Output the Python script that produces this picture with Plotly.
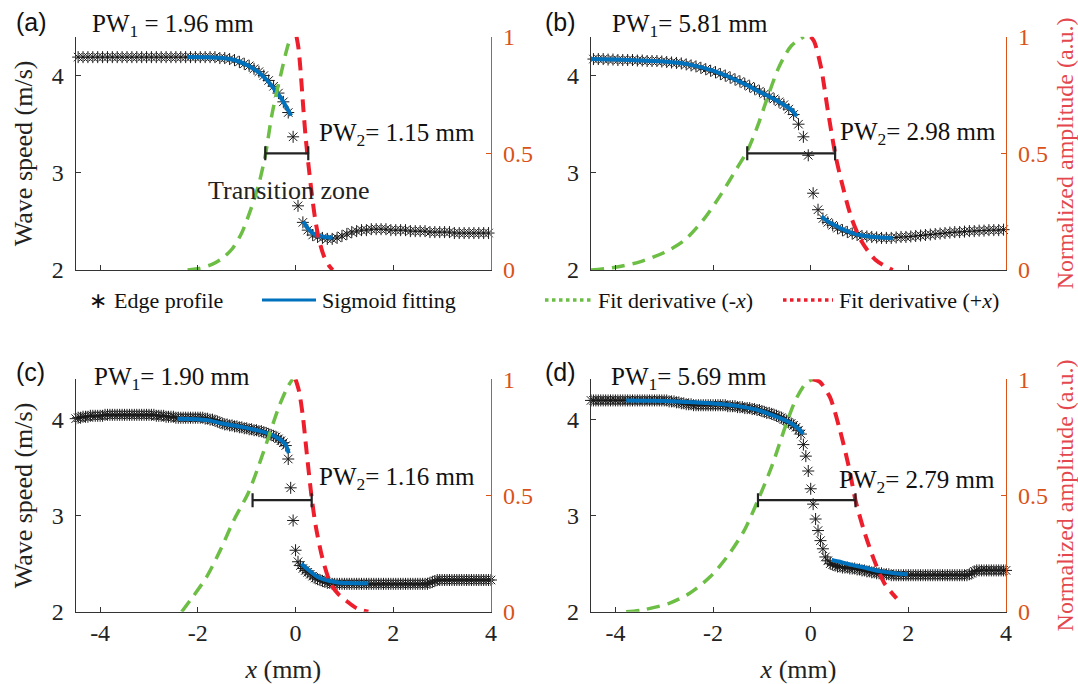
import plotly.graph_objects as go

# ---------------- data ----------------
# sampling grids of the measured edge profiles (mm)
EDGE_X_AB = [round(-4.55 + 0.1 * k, 2) for k in range(87)]
EDGE_X_CD = [round(-4.55 + 0.05 * k, 2) for k in range(173)]

EDGE_Y_A = [4.19, 4.19, 4.19, 4.19, 4.19, 4.19, 4.19, 4.19, 4.19, 4.19,
            4.19, 4.19, 4.19, 4.19, 4.19, 4.19, 4.19, 4.19, 4.19, 4.19,
            4.19, 4.19, 4.19, 4.19, 4.19, 4.19, 4.19, 4.19, 4.19, 4.19,
            4.18, 4.18, 4.17, 4.16, 4.14, 4.12, 4.10, 4.07, 4.04, 4.00,
            3.95, 3.89, 3.82, 3.73, 3.62, 3.37, 2.66, 2.49, 2.41, 2.36,
            2.34, 2.33, 2.32, 2.32, 2.33, 2.35, 2.37, 2.39, 2.40, 2.41,
            2.41, 2.42, 2.42, 2.42, 2.42, 2.41, 2.41, 2.41, 2.41, 2.40,
            2.40, 2.40, 2.40, 2.39, 2.39, 2.39, 2.39, 2.39, 2.38, 2.38,
            2.38, 2.38, 2.38, 2.38, 2.38, 2.38, 2.38]

EDGE_Y_B = [4.17, 4.17, 4.17, 4.17, 4.165, 4.165, 4.16, 4.16, 4.16, 4.16,
            4.155, 4.155, 4.15, 4.15, 4.15, 4.145, 4.14, 4.135, 4.13, 4.125,
            4.115, 4.105, 4.095, 4.08, 4.065, 4.05, 4.035, 4.015, 4.0, 3.98,
            3.96, 3.94, 3.915, 3.89, 3.865, 3.84, 3.81, 3.785, 3.76, 3.73,
            3.70, 3.655, 3.60, 3.50, 3.37, 3.18, 2.79, 2.62, 2.53, 2.49,
            2.46, 2.43, 2.41, 2.39, 2.375, 2.36, 2.35, 2.345, 2.34, 2.335,
            2.33, 2.33, 2.33, 2.335, 2.34, 2.34, 2.345, 2.35, 2.355, 2.36,
            2.365, 2.37, 2.375, 2.38, 2.385, 2.39, 2.39, 2.395, 2.40, 2.40,
            2.405, 2.405, 2.41, 2.41, 2.41, 2.415, 2.415]

EDGE_Y_C = [4.00, 4.01, 4.02, 4.02, 4.03, 4.03, 4.03, 4.04, 4.04, 4.04, 4.04, 4.04,
            4.04, 4.05, 4.05, 4.05, 4.05, 4.05, 4.05, 4.05,
            4.05, 4.05, 4.05, 4.05, 4.05, 4.05, 4.05, 4.05, 4.05, 4.05,
            4.05, 4.05, 4.05, 4.05, 4.04, 4.04, 4.04, 4.04, 4.03, 4.03,
            4.03, 4.03, 4.02, 4.02, 4.02, 4.02, 4.02, 4.02, 4.02, 4.02,
            4.02, 4.02, 4.02, 4.02, 4.01, 4.01, 4.00, 4.00, 3.99, 3.98,
            3.97, 3.96, 3.95, 3.95, 3.94, 3.94, 3.93, 3.93, 3.92, 3.92,
            3.91, 3.91, 3.90, 3.90, 3.89, 3.89, 3.88, 3.88, 3.87, 3.86,
            3.85, 3.84, 3.83, 3.82, 3.80, 3.78, 3.76, 3.73, 3.59, 3.29,
            2.95, 2.64, 2.52, 2.48, 2.45, 2.43, 2.41, 2.39, 2.37, 2.35,
            2.34, 2.33, 2.32, 2.31, 2.30, 2.30, 2.29, 2.29, 2.29, 2.29,
            2.29, 2.29, 2.29, 2.29, 2.29, 2.29, 2.29, 2.29, 2.29, 2.29,
            2.29, 2.29, 2.29, 2.29, 2.29, 2.29, 2.29, 2.29, 2.29, 2.29,
            2.29, 2.29, 2.29, 2.29, 2.29, 2.29, 2.29, 2.29, 2.29, 2.29,
            2.29, 2.29, 2.29, 2.29, 2.29, 2.29, 2.30, 2.31, 2.32, 2.33,
            2.33, 2.33, 2.33, 2.33, 2.33, 2.33, 2.33, 2.33, 2.33, 2.33,
            2.33, 2.33, 2.33, 2.33, 2.33, 2.33, 2.33, 2.33, 2.33, 2.33,
            2.33, 2.33, 2.33]

EDGE_Y_D = [4.20, 4.20, 4.20, 4.20, 4.20, 4.20, 4.20, 4.20, 4.20, 4.20,
            4.20, 4.20, 4.20, 4.20, 4.20, 4.20, 4.20, 4.20, 4.20, 4.20,
            4.20, 4.20, 4.20, 4.20, 4.20, 4.20, 4.20, 4.20, 4.20, 4.20,
            4.20, 4.20, 4.20, 4.19, 4.19, 4.19, 4.18, 4.18, 4.17, 4.17,
            4.16, 4.16, 4.16, 4.15, 4.15, 4.15, 4.15, 4.15, 4.15, 4.15,
            4.15, 4.15, 4.15, 4.15, 4.15, 4.15, 4.15, 4.14, 4.14, 4.14,
            4.14, 4.13, 4.13, 4.13, 4.12, 4.12, 4.12, 4.11, 4.11, 4.10,
            4.10, 4.09, 4.08, 4.07, 4.07, 4.06, 4.05, 4.04, 4.03, 4.02,
            4.00, 3.99, 3.97, 3.96, 3.94, 3.92, 3.89, 3.85, 3.74, 3.62,
            3.465, 3.28, 3.12, 2.965, 2.845, 2.74, 2.655, 2.57, 2.53, 2.50,
            2.49, 2.48, 2.47, 2.47, 2.46, 2.46, 2.46, 2.45, 2.45, 2.45,
            2.44, 2.44, 2.43, 2.43, 2.42, 2.42, 2.41, 2.41, 2.40, 2.40,
            2.40, 2.39, 2.39, 2.39, 2.38, 2.38, 2.38, 2.38, 2.38, 2.38,
            2.38, 2.38, 2.38, 2.38, 2.38, 2.38, 2.38, 2.38, 2.38, 2.38,
            2.38, 2.38, 2.38, 2.38, 2.38, 2.38, 2.38, 2.38, 2.38, 2.38,
            2.38, 2.38, 2.38, 2.38, 2.38, 2.38, 2.39, 2.40, 2.42, 2.43,
            2.43, 2.43, 2.43, 2.43, 2.43, 2.43, 2.43, 2.43, 2.43, 2.43,
            2.43, 2.43, 2.43]

# sigmoid fits (two fitted segments, separated by None)
FIT_X_A = [-2.21, -1.8, -1.5, -1.25, -1.0, -0.8, -0.6, -0.45, -0.3, -0.18, -0.09,
           None, 0.16, 0.25, 0.35, 0.45, 0.6, 0.76]
FIT_Y_A = [4.19, 4.188, 4.18, 4.16, 4.11, 4.05, 3.96, 3.87, 3.77, 3.67, 3.59,
           None, 2.50, 2.43, 2.38, 2.355, 2.34, 2.335]
FIT_X_B = [-4.5, -4.0, -3.5, -3.0, -2.5, -2.0, -1.6, -1.3, -1.0, -0.75, -0.55, -0.4, -0.285,
           None, 0.22, 0.35, 0.5, 0.65, 0.8, 1.0, 1.2, 1.45, 1.68]
FIT_Y_B = [4.17, 4.165, 4.155, 4.145, 4.115, 4.05, 3.97, 3.90, 3.82, 3.76, 3.70, 3.65, 3.58,
           None, 2.55, 2.50, 2.46, 2.42, 2.39, 2.36, 2.345, 2.335, 2.33]
FIT_X_C = [-2.42, -2.0, -1.8, -1.5, -1.1, -0.8, -0.55, -0.4, -0.28, -0.2, -0.14,
           None, 0.12, 0.2, 0.3, 0.4, 0.51, 0.7, 0.86, 1.1, 1.49]
FIT_Y_C = [4.01, 4.005, 3.995, 3.96, 3.925, 3.89, 3.855, 3.82, 3.78, 3.735, 3.65,
           None, 2.50, 2.46, 2.42, 2.38, 2.35, 2.32, 2.305, 2.298, 2.295]
FIT_X_D = [-3.78, -3.2, -2.76, -2.4, -2.06, -1.7, -1.36, -1.05, -0.8, -0.6, -0.45, -0.32, -0.24, -0.155,
           None, 0.43, 0.6, 0.74, 0.9, 1.09, 1.25, 1.44, 1.72, 1.99]
FIT_Y_D = [4.20, 4.197, 4.19, 4.18, 4.17, 4.155, 4.13, 4.095, 4.05, 4.01, 3.975, 3.935, 3.90, 3.85,
           None, 2.54, 2.52, 2.50, 2.48, 2.46, 2.44, 2.42, 2.40, 2.39]

# normalised fit derivatives (right axis)
GREEN_X_A = [-2.21, -1.95, -1.7, -1.5, -1.3, -1.1, -0.9, -0.75, -0.62, -0.48, -0.3, -0.16, -0.09]
GREEN_Y_A = [0.0, 0.008, 0.025, 0.05, 0.09, 0.16, 0.27, 0.37, 0.49, 0.67, 0.84, 0.96, 1.0]
RED_X_A = [0.02, 0.06, 0.1, 0.16, 0.21, 0.27, 0.33, 0.4, 0.48, 0.58, 0.68, 0.76]
RED_Y_A = [1.0, 0.95, 0.86, 0.69, 0.56, 0.44, 0.33, 0.22, 0.13, 0.06, 0.02, 0.0]

GREEN_X_B = [-4.5, -4.0, -3.5, -3.0, -2.6, -2.2, -1.85, -1.5, -1.3, -1.1, -0.9, -0.65, -0.4, -0.14]
GREEN_Y_B = [0.0, 0.012, 0.035, 0.075, 0.125, 0.215, 0.32, 0.44, 0.51, 0.61, 0.73, 0.87, 0.96, 1.0]
RED_X_B = [0.0, 0.07, 0.21, 0.35, 0.50, 0.63, 0.84, 1.05, 1.33, 1.68]
RED_Y_B = [1.0, 0.98, 0.87, 0.685, 0.5, 0.38, 0.22, 0.12, 0.043, 0.0]

GREEN_X_C = [-2.33, -2.1, -1.82, -1.54, -1.26, -0.97, -0.76, -0.55, -0.34, -0.16, -0.06]
GREEN_Y_C = [0.0, 0.065, 0.15, 0.265, 0.395, 0.51, 0.625, 0.753, 0.882, 0.968, 1.0]
RED_X_C = [0.0, 0.07, 0.15, 0.23, 0.33, 0.42, 0.55, 0.72, 0.88, 1.05, 1.25, 1.49]
RED_Y_C = [1.0, 0.95, 0.84, 0.68, 0.49, 0.36, 0.23, 0.12, 0.075, 0.045, 0.015, 0.0]

GREEN_X_D = [-3.78, -3.46, -2.90, -2.48, -2.06, -1.71, -1.36, -1.08, -0.80, -0.52, -0.31, -0.10, 0.04]
GREEN_Y_D = [0.0, 0.007, 0.036, 0.079, 0.15, 0.237, 0.35, 0.48, 0.624, 0.796, 0.911, 0.983, 1.0]
RED_X_D = [0.04, 0.18, 0.39, 0.60, 0.78, 0.917, 1.09, 1.30, 1.51, 1.76]
RED_Y_D = [1.0, 0.99, 0.925, 0.78, 0.624, 0.48, 0.35, 0.222, 0.122, 0.057]

# PW2 bars: [left end, right end] and level on the amplitude axis
PW_BAR_A = [-0.62, 0.26]
PW_BAR_B = [-1.30, 0.50]
PW_BAR_C = [-0.88, 0.33]
PW_BAR_D = [-1.08, 0.917]
PW_LEVEL = [0.5, 0.5, 0.48, 0.48]

PANEL_LABELS = ["(a)", "(b)", "(c)", "(d)"]
PW1_TEXT = ["PW<sub>1</sub> = 1.96 mm", "PW<sub>1</sub>= 5.81 mm",
            "PW<sub>1</sub>= 1.90 mm", "PW<sub>1</sub>= 5.69 mm"]
PW2_TEXT = ["PW<sub>2</sub>= 1.15 mm", "PW<sub>2</sub>= 2.98 mm",
            "PW<sub>2</sub>= 1.16 mm", "PW<sub>2</sub>= 2.79 mm"]
X_TICKS = [-4, -2, 0, 2, 4]
X_TICKTEXT = ["-4", "-2", "0", "2", "4"]
YL_TICKS = [2, 3, 4]
YR_TICKS = [0, 0.5, 1]
YR_TICKTEXT = ["0", "0.5", "1"]
LEGEND_NAMES = ["Edge profile", "Sigmoid fitting",
                "Fit derivative (-<i>x</i>)", "Fit derivative (+<i>x</i>)"]

assert len(EDGE_Y_A) == len(EDGE_X_AB) and len(EDGE_Y_B) == len(EDGE_X_AB)
assert len(EDGE_Y_C) == len(EDGE_X_CD) and len(EDGE_Y_D) == len(EDGE_X_CD)

# ---------------- styling ----------------
W, H = 1078, 684
SERIF = "Liberation Serif"
SANS = "Liberation Sans"
DARK = "#333333"
ORANGE = "#D95319"
RED_TITLE = "#E4484E"
BLUE = "#0072BD"
GREEN = "#6CBE45"
RED = "#EE1F2D"
EDGE_C = "#1a1a1a"

XDOM = [[75.7 / W, 491 / W], [591 / W, 1006 / W], [75.7 / W, 491 / W], [591 / W, 1006 / W]]
YDOM_TOP = [1 - 270 / H, 1 - 36.7 / H]
YDOM_BOT = [1 - 611.7 / H, 1 - 379.3 / H]
YDOM = [YDOM_TOP, YDOM_TOP, YDOM_BOT, YDOM_BOT]
YRANGE = [[2.0, 4.4], [2.0, 4.4], [2.0, 4.42], [2.0, 4.42]]

panels = [
    (EDGE_X_AB, EDGE_Y_A, FIT_X_A, FIT_Y_A, GREEN_X_A, GREEN_Y_A, RED_X_A, RED_Y_A, PW_BAR_A),
    (EDGE_X_AB, EDGE_Y_B, FIT_X_B, FIT_Y_B, GREEN_X_B, GREEN_Y_B, RED_X_B, RED_Y_B, PW_BAR_B),
    (EDGE_X_CD, EDGE_Y_C, FIT_X_C, FIT_Y_C, GREEN_X_C, GREEN_Y_C, RED_X_C, RED_Y_C, PW_BAR_C),
    (EDGE_X_CD, EDGE_Y_D, FIT_X_D, FIT_Y_D, GREEN_X_D, GREEN_Y_D, RED_X_D, RED_Y_D, PW_BAR_D),
]

# text positions in figure pixels (left edge, vertical centre)
PW1_POS_PX = [(90, 26), (610, 25), (92, 378), (609, 378)]
LABEL_POS_PX = [(14, 22), (543, 22), (14, 372), (543, 372)]
# PW2 text positions in data coords (x, amplitude)
PW2_POS = [(0.44, 0.58), (0.56, 0.585), (0.436, 0.575), (0.53, 0.56)]

fig = go.Figure()
annotations = []
layout = {}

for i, (ex, ey, fx, fy, gx, gy, rx, ry, bar) in enumerate(panels):
    n = i + 1
    xn = "x" if n == 1 else f"x{n}"
    yl = "y" if n == 1 else f"y{2 * n - 1}"
    yr = f"y{2 * n}"

    fig.add_trace(go.Scatter(
        x=ex, y=ey, xaxis=xn, yaxis=yl, mode="markers", name=LEGEND_NAMES[0],
        cliponaxis=False,
        marker=dict(symbol="asterisk-open", size=10, color=EDGE_C,
                    line=dict(width=1, color=EDGE_C))))
    fig.add_trace(go.Scatter(
        x=fx, y=fy, xaxis=xn, yaxis=yl, mode="lines", name=LEGEND_NAMES[1],
        line=dict(color=BLUE, width=4, shape="spline", smoothing=0.8)))
    fig.add_trace(go.Scatter(
        x=gx, y=gy, xaxis=xn, yaxis=yr, mode="lines", name=LEGEND_NAMES[2],
        cliponaxis=False,
        line=dict(color=GREEN, width=3.5, dash="13px,8px", shape="spline", smoothing=0.8)))
    fig.add_trace(go.Scatter(
        x=rx, y=ry, xaxis=xn, yaxis=yr, mode="lines", name=LEGEND_NAMES[3],
        cliponaxis=False,
        line=dict(color=RED, width=4, dash="13px,8px", shape="spline", smoothing=0.8)))
    fig.add_trace(go.Scatter(
        x=[(bar[0] + bar[1]) / 2], y=[PW_LEVEL[i]], xaxis=xn, yaxis=yr,
        mode="markers", marker=dict(size=1, color="rgba(0,0,0,0)"), cliponaxis=False,
        error_x=dict(type="data", array=[(bar[1] - bar[0]) / 2], symmetric=True,
                     color="#222222", thickness=2.2, width=7),
        showlegend=False))

    bottom = n >= 3
    xkey = "xaxis" if n == 1 else f"xaxis{n}"
    ylkey = "yaxis" if n == 1 else f"yaxis{2 * n - 1}"
    yrkey = f"yaxis{2 * n}"

    xa = dict(
        domain=XDOM[i], anchor=yl, range=[-4.5, 4.0], showgrid=False, zeroline=False,
        showline=True, linecolor=DARK, linewidth=1.3, ticks="inside", ticklen=5,
        tickcolor=DARK, tickvals=X_TICKS, ticktext=X_TICKTEXT, showticklabels=bottom,
        ticklabelstandoff=-1,
        tickfont=dict(family=SERIF, size=24, color="#222222"), automargin=False)
    if bottom:
        xa["title"] = dict(text="<i>x</i> (mm)",
                           font=dict(family=SERIF, size=26, color="#222222"), standoff=16)
    layout[xkey] = xa

    ya = dict(
        domain=YDOM[i], anchor=xn, range=YRANGE[i], showgrid=False, zeroline=False,
        showline=True, linecolor=DARK, linewidth=1.3, ticks="inside", ticklen=5,
        tickcolor=DARK, tickvals=YL_TICKS, ticklabelstandoff=6,
        tickfont=dict(family=SERIF, size=24, color="#222222"), automargin=False)
    if n in (1, 3):
        ya["title"] = dict(text="Wave speed (m/s)",
                           font=dict(family=SERIF, size=26, color="#222222"), standoff=11)
    layout[ylkey] = ya

    yb = dict(
        overlaying=yl, side="right", anchor=xn, range=[0, 1], showgrid=False,
        zeroline=False, showline=True, linecolor=ORANGE, linewidth=1.3,
        ticks="inside", ticklen=5, tickcolor=ORANGE, tickvals=YR_TICKS,
        ticktext=YR_TICKTEXT, ticklabelstandoff=6,
        tickfont=dict(family=SERIF, size=24, color=ORANGE), automargin=False)
    if n in (2, 4):
        yb["title"] = dict(text="Normalized amplitude (a.u.)",
                           font=dict(family=SERIF, size=24, color=RED_TITLE), standoff=14)
    layout[yrkey] = yb

    # texts
    annotations.append(dict(
        text=PANEL_LABELS[i], xref="paper", yref="paper",
        x=LABEL_POS_PX[i][0] / W, y=1 - LABEL_POS_PX[i][1] / H,
        xanchor="left", yanchor="middle", showarrow=False,
        font=dict(family=SANS, size=25, color="#111111")))
    annotations.append(dict(
        text=PW1_TEXT[i], xref="paper", yref="paper",
        x=PW1_POS_PX[i][0] / W, y=1 - PW1_POS_PX[i][1] / H,
        xanchor="left", yanchor="middle", showarrow=False,
        font=dict(family=SERIF, size=25, color="#111111")))
    annotations.append(dict(
        text=PW2_TEXT[i], xref=xn, yref=yr, x=PW2_POS[i][0], y=PW2_POS[i][1],
        xanchor="left", yanchor="middle", showarrow=False,
        font=dict(family=SERIF, size=25, color="#111111")))

annotations.append(dict(
    text="Transition zone", xref="x", yref="y2", x=-1.83, y=0.342,
    xanchor="left", yanchor="middle", showarrow=False,
    font=dict(family=SERIF, size=26, color="#222222")))

# ---------------- legend row (drawn manually, one row under the top panels) ----------------
LEG_Y = 1 - 300 / H
shapes = [
    dict(type="line", xref="paper", yref="paper", x0=262 / W, x1=316 / W, y0=LEG_Y, y1=LEG_Y,
         line=dict(color=BLUE, width=3)),
    dict(type="line", xref="paper", yref="paper", x0=545 / W, x1=592 / W, y0=LEG_Y, y1=LEG_Y,
         line=dict(color=GREEN, width=3.5, dash="dot")),
    dict(type="line", xref="paper", yref="paper", x0=783 / W, x1=833 / W, y0=LEG_Y, y1=LEG_Y,
         line=dict(color=RED, width=3.5, dash="dot")),
]
annotations.append(dict(text="∗", xref="paper", yref="paper", x=98 / W, y=LEG_Y,
                        xanchor="center", yanchor="middle", showarrow=False,
                        font=dict(family="DejaVu Sans", size=22, color="#111111")))
for name, x0 in zip(LEGEND_NAMES, [112, 320, 596, 837]):
    annotations.append(dict(text=name, xref="paper", yref="paper", x=x0 / W, y=LEG_Y,
                            xanchor="left", yanchor="middle", showarrow=False,
                            font=dict(family=SERIF, size=22, color="#111111")))

fig.update_layout(
    width=W, height=H, autosize=False,
    margin=dict(l=0, r=0, t=0, b=0),
    paper_bgcolor="white", plot_bgcolor="rgba(0,0,0,0)",
    showlegend=False, annotations=annotations, shapes=shapes,
    font=dict(family=SERIF),
    **layout)

fig.write_html("out.html", config={"displayModeBar": False},
               post_script="document.body.style.margin='0px';")
